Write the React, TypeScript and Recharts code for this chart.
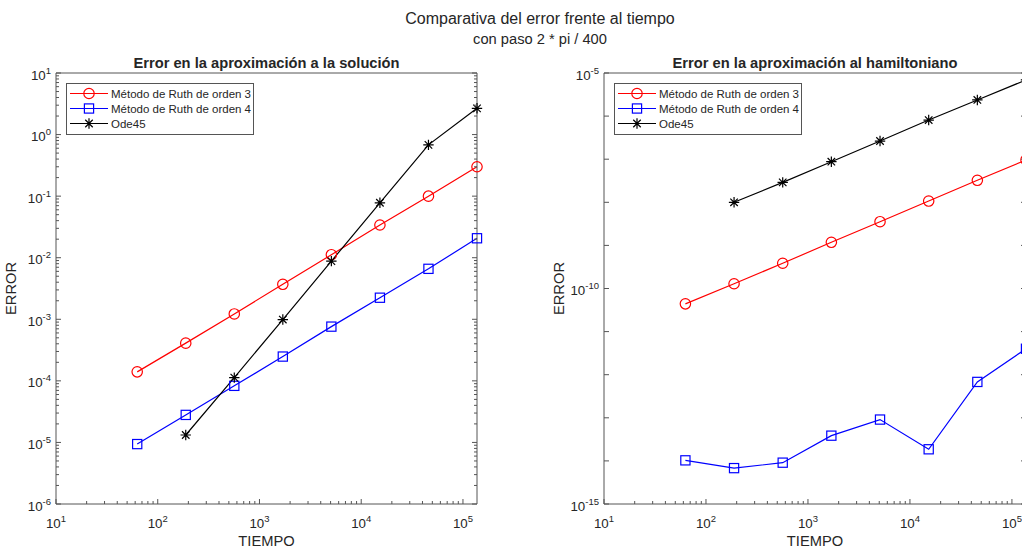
import React from 'react';
import { LineChart, Line, XAxis, YAxis, Legend, Label } from 'recharts';

// tiempos de integración (20*pi * 3^k)
const tiempos = [62.83, 188.5, 565.5, 1696, 5089, 15268, 45804, 137412];

// error en la aproximación a la solución
const solRuth3 = [1.4e-4, 4.1e-4, 1.22e-3, 3.7e-3, 1.12e-2, 3.4e-2, 1.0e-1, 3.0e-1];
const solRuth4 = [9.4e-6, 2.8e-5, 8.3e-5, 2.48e-4, 7.6e-4, 2.24e-3, 6.6e-3, 2.07e-2];
const solOde45 = [null, 1.32e-5, 1.13e-4, 9.9e-4, 8.8e-3, 7.8e-2, 6.8e-1, 2.67];

// error en la aproximación al hamiltoniano
const hamRuth3 = [4.4e-11, 1.29e-10, 3.85e-10, 1.18e-9, 3.55e-9, 1.07e-8, 3.24e-8, 9.6e-8];
const hamRuth4 = [1.03e-14, 6.8e-15, 9.1e-15, 3.85e-14, 9.1e-14, 1.86e-14, 6.8e-13, 4.0e-12];
const hamOde45 = [null, 1.0e-8, 2.9e-8, 8.75e-8, 2.64e-7, 8.1e-7, 2.37e-6, 6.9e-6];

const seriesNames = ['Método de Ruth de orden 3', 'Método de Ruth de orden 4', 'Ode45'];

const xMajor = [10, 100, 1000, 10000, 100000];
const solYMajor = [1e-6, 1e-5, 1e-4, 1e-3, 1e-2, 1e-1, 1, 10];
const hamYMajor = [1e-15, 1e-14, 1e-13, 1e-12, 1e-11, 1e-10, 1e-9, 1e-8, 1e-7, 1e-6, 1e-5];
const hamYLabeled = [-15, -10, -5];

const FONT = '"Liberation Sans", Arial, Helvetica, sans-serif';
const AXIS = '#555555';
const TXT = '#262626';

const withMinors = (majors: number[], maxVal: number) => {
  const out: number[] = [];
  majors.forEach((m) => {
    out.push(m);
    for (let d = 2; d <= 9; d++) if (m * d <= maxVal) out.push(m * d);
  });
  return out;
};

const expOf = (v: number) => Math.round(Math.log10(v));
const isMajor = (v: number) => Math.abs(Math.log10(v) - expOf(v)) < 1e-6;

const Pow10 = ({ x, y, e, anchor }: any) => (
  <text x={x} y={y} textAnchor={anchor} fill={TXT} fontFamily={FONT} fontSize={13.3}>
    <tspan>10</tspan>
    <tspan dy={-6} fontSize={9.5}>{e}</tspan>
  </text>
);

const XTick = ({ x, y, payload, top }: any) => {
  const v = payload.value;
  const major = isMajor(v);
  const len = major ? 5 : 3;
  return (
    <g>
      <line x1={x} y1={y} x2={x} y2={top ? y + len : y - len} stroke={AXIS} />
      {!top && major && <Pow10 x={x} y={y + 24} e={expOf(v)} anchor="middle" />}
    </g>
  );
};

const YTick = ({ x, y, payload, right, labeled }: any) => {
  const v = payload.value;
  const major = isMajor(v);
  const len = major ? 5 : 3;
  const show = !right && major && (!labeled || labeled.includes(expOf(v)));
  return (
    <g>
      <line x1={x} y1={y} x2={right ? x - len : x + len} y2={y} stroke={AXIS} />
      {show && <Pow10 x={x - 5} y={y + 6.5} e={expOf(v)} anchor="end" />}
    </g>
  );
};

const Marker = ({ shape, cx, cy, color }: any) => {
  if (shape === 'circle')
    return <circle cx={cx} cy={cy} r={5.2} fill="none" stroke={color} strokeWidth={1.2} />;
  if (shape === 'square')
    return <rect x={cx - 4.6} y={cy - 4.6} width={9.2} height={9.2} fill="none" stroke={color} strokeWidth={1.2} />;
  const r = 5.2;
  const d = r * 0.72;
  return (
    <path
      d={`M${cx - r},${cy}H${cx + r}M${cx},${cy - r}V${cy + r}M${cx - d},${cy - d}L${cx + d},${cy + d}M${cx - d},${cy + d}L${cx + d},${cy - d}`}
      stroke={color}
      strokeWidth={1.2}
      fill="none"
    />
  );
};

const shapes: Record<string, string> = { r3: 'circle', r4: 'square', ode: 'star' };

const dotFor = (key: string, color: string) => (p: any) =>
  p.value == null || p.cy == null ? (
    <g key={`${key}-${p.index}`} />
  ) : (
    <Marker key={`${key}-${p.index}`} shape={shapes[key]} cx={p.cx} cy={p.cy} color={color} />
  );

const LegendBox = ({ payload }: any) => (
  <div
    style={{
      border: `1px solid ${AXIS}`,
      background: '#fff',
      width: 186,
      padding: '2px 0 3px 0',
      fontFamily: FONT,
      fontSize: 11.5,
      color: TXT,
    }}
  >
    {(payload || []).map((item: any) => (
      <div key={item.dataKey} style={{ display: 'flex', alignItems: 'center', height: 15 }}>
        <svg width={44} height={15} style={{ display: 'block' }}>
          <line x1={3} x2={41} y1={7.5} y2={7.5} stroke={item.color} strokeWidth={1.2} />
          <Marker shape={shapes[item.dataKey]} cx={22} cy={7.5} color={item.color} />
        </svg>
        <span style={{ whiteSpace: 'nowrap' }}>{item.value}</span>
      </div>
    ))}
  </div>
);

interface PanelProps {
  data: any[];
  width: number;
  plotLeft: number;
  plotRight: number;
  yDomain: [number, number];
  yTicks: number[];
  yLabeled?: number[];
}

// axes are 1px thick (a 0-sized axis is not drawn), margins compensate
const ErrorPanel = ({ data, width, plotLeft, plotRight, yDomain, yTicks, yLabeled }: PanelProps) => {
  const xTicks = withMinors(xMajor, 137412);
  return (
    <LineChart
      width={width}
      height={548}
      data={data}
      margin={{ top: 72, bottom: 43, left: plotLeft - 1, right: plotRight - 1 }}
    >
      <XAxis
        xAxisId="b"
        dataKey="t"
        type="number"
        scale="log"
        domain={[10, 137412]}
        ticks={xTicks}
        interval={0}
        height={1}
        tickSize={0}
        tickMargin={0}
        tickLine={false}
        axisLine={{ stroke: AXIS }}
        tick={(p: any) => <XTick {...p} />}
      >
        <Label
          value="TIEMPO"
          content={({ viewBox }: any) => (
            <text
              x={viewBox.x + viewBox.width / 2}
              y={viewBox.y + 42}
              textAnchor="middle"
              fill={TXT}
              fontFamily={FONT}
              fontSize={14.7}
            >
              TIEMPO
            </text>
          )}
        />
      </XAxis>
      <XAxis
        xAxisId="t"
        orientation="top"
        type="number"
        scale="log"
        domain={[10, 137412]}
        allowDataOverflow
        ticks={xTicks}
        interval={0}
        height={1}
        tickSize={0}
        tickMargin={0}
        tickLine={false}
        axisLine={{ stroke: AXIS }}
        tick={(p: any) => <XTick {...p} top />}
      />
      <YAxis
        yAxisId="l"
        type="number"
        scale="log"
        domain={yDomain}
        ticks={yTicks}
        interval={0}
        width={1}
        tickSize={0}
        tickMargin={0}
        tickLine={false}
        axisLine={{ stroke: AXIS }}
        tick={(p: any) => <YTick {...p} labeled={yLabeled} />}
      >
        <Label
          value="ERROR"
          content={({ viewBox }: any) => {
            const cx = viewBox.x - 39;
            const cy = viewBox.y + viewBox.height / 2;
            return (
              <text
                x={cx}
                y={cy}
                transform={`rotate(-90 ${cx} ${cy})`}
                textAnchor="middle"
                fill={TXT}
                fontFamily={FONT}
                fontSize={14.7}
              >
                ERROR
              </text>
            );
          }}
        />
      </YAxis>
      <YAxis
        yAxisId="r"
        orientation="right"
        type="number"
        scale="log"
        domain={yDomain}
        allowDataOverflow
        ticks={yTicks}
        interval={0}
        width={1}
        tickSize={0}
        tickMargin={0}
        tickLine={false}
        axisLine={{ stroke: AXIS }}
        tick={(p: any) => <YTick {...p} right />}
      />
      <Legend
        layout="vertical"
        align="center"
        verticalAlign="middle"
        wrapperStyle={{ left: plotLeft + 10, top: 83, width: 'auto', height: 'auto' }}
        content={(p: any) => <LegendBox {...p} />}
      />
      <Line
        xAxisId="b"
        yAxisId="l"
        dataKey="r3"
        name={seriesNames[0]}
        stroke="#ff0000"
        strokeWidth={1.2}
        dot={dotFor('r3', '#ff0000')}
        activeDot={false}
        isAnimationActive={false}
      />
      <Line
        xAxisId="b"
        yAxisId="l"
        dataKey="r4"
        name={seriesNames[1]}
        stroke="#0000ff"
        strokeWidth={1.2}
        dot={dotFor('r4', '#0000ff')}
        activeDot={false}
        isAnimationActive={false}
      />
      <Line
        xAxisId="b"
        yAxisId="l"
        dataKey="ode"
        name={seriesNames[2]}
        stroke="#000000"
        strokeWidth={1.2}
        dot={dotFor('ode', '#000000')}
        activeDot={false}
        isAnimationActive={false}
      />
    </LineChart>
  );
};

const solData = tiempos.map((t, i) => ({ t, r3: solRuth3[i], r4: solRuth4[i], ode: solOde45[i] }));
const hamData = tiempos.map((t, i) => ({ t, r3: hamRuth3[i], r4: hamRuth4[i], ode: hamOde45[i] }));

export default function App() {
  const title = { fontFamily: FONT, fill: TXT };
  return (
    <div
      style={{
        position: 'fixed',
        left: 0,
        top: 0,
        width: 1022,
        height: 548,
        overflow: 'hidden',
        background: '#fff',
      }}
    >
      <div style={{ position: 'absolute', left: 0, top: 0 }}>
        <ErrorPanel
          data={solData}
          width={520}
          plotLeft={56}
          plotRight={43}
          yDomain={[1e-6, 10]}
          yTicks={withMinors(solYMajor, 10)}
        />
      </div>
      <div style={{ position: 'absolute', left: 520, top: 0 }}>
        <ErrorPanel
          data={hamData}
          width={560}
          plotLeft={84}
          plotRight={54}
          yDomain={[1e-15, 1e-5]}
          yTicks={hamYMajor}
          yLabeled={hamYLabeled}
        />
      </div>
      <svg
        width={1022}
        height={548}
        style={{ position: 'absolute', left: 0, top: 0, pointerEvents: 'none' }}
      >
        <text x={540} y={24} textAnchor="middle" fontSize={16} {...title}>
          Comparativa del error frente al tiempo
        </text>
        <text x={540} y={44} textAnchor="middle" fontSize={14.7} {...title}>
          con paso 2 * pi / 400
        </text>
        <text x={266.5} y={68} textAnchor="middle" fontSize={14.7} fontWeight="bold" {...title}>
          Error en la aproximación a la solución
        </text>
        <text x={815} y={68} textAnchor="middle" fontSize={14.7} fontWeight="bold" {...title}>
          Error en la aproximación al hamiltoniano
        </text>
      </svg>
    </div>
  );
}
